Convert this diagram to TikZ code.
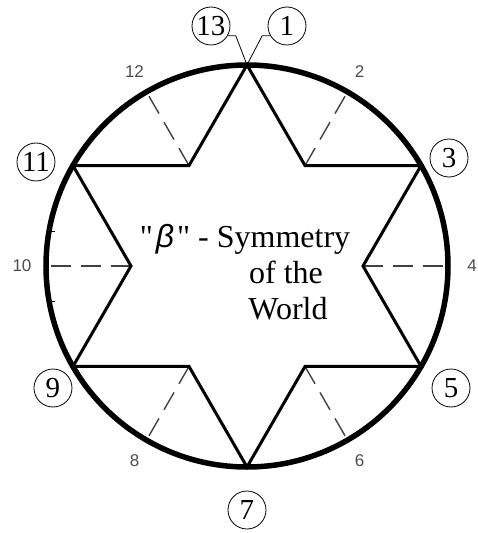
\documentclass[tikz,border=0pt]{standalone}
\usepackage{fontspec}
\setmainfont{Liberation Serif}[Ligatures=TeXOff]
\newfontfamily\cadfont{Liberation Sans}
\usetikzlibrary{calc}
\tikzset{
  rim/.style={line width=5.5pt},
  starline/.style={line width=3pt,line join=miter},
  axisdash/.style={black!75,line width=1.4pt,dash pattern=on 20pt off 10pt},
  numlabel/.style={circle,draw,line width=0.8pt,minimum size=38pt,inner sep=0pt,font=\fontsize{29}{29}\selectfont},
  minorlabel/.style={font=\cadfont\fontsize{17}{17}\selectfont,text=black!70},
  titletext/.style={font=\fontsize{32}{36}\selectfont,anchor=base},
  leader/.style={line width=0.8pt}
}
\begin{document}
\begin{tikzpicture}[x=1pt,y=1pt]
  \useasboundingbox (-247,-267) rectangle (230,266);
  \coordinate (O) at (0,0); \def\R{201}
  % star tips on the rim, inner corners, rim points of the dashed axes
  \foreach \a/\n in {90/1,30/3,-30/5,-90/7,-150/9,150/11} \coordinate (P\n) at (\a:\R);
  \foreach \a/\n in {60/2,0/4,-60/6,-120/8,180/10,120/12} {\coordinate (Q\n) at (\a:116); \coordinate (C\n) at (\a:\R);}
  \foreach \n in {2,4,6,8,10,12} \draw[axisdash] (Q\n) -- (C\n);
  \draw[starline] (P1) -- (Q2) -- (P3) -- (Q4) -- (P5) -- (Q6) -- (P7) -- (Q8) -- (P9) -- (Q10) -- (P11) -- (Q12) -- cycle;
  \draw[rim] (O) circle (\R);
  \foreach \a in {170,190} \draw[leader] (\a:\R) -- ++(6,0);
  % small numbers outside the rim
  \foreach \a/\n in {60/2,0/4,-60/6,-120/8,180/10,120/12} \node[minorlabel] (m\n) at (\a:225) {\n};
  % circled numbers
  \node[numlabel] (l13) at (-36,240) {13}; \node[numlabel] (l1) at (40,240) {1};
  \node[numlabel] (l3) at (202,108) {3}; \node[numlabel] (l5) at (204,-122) {5};
  \node[numlabel] (l7) at (0,-244) {7}; \node[numlabel] (l9) at (-194,-122) {9};
  \node[numlabel] (l11) at (-211,104) {11};
  \draw[leader] (l13.-30) -- ++(8,0) -- (P1);
  \draw[leader] (l1.-150) -- ++(-8,0) -- (P1);
  % title
  \node[titletext] (t1) at (-2,19) {"\kern3pt{\cadfont\itshape β}\kern3pt" - Symmetry};
  \node[titletext] (t2) at (39,-17) {of the};
  \node[titletext] (t3) at (41,-53) {World};
\end{tikzpicture}
\end{document}
